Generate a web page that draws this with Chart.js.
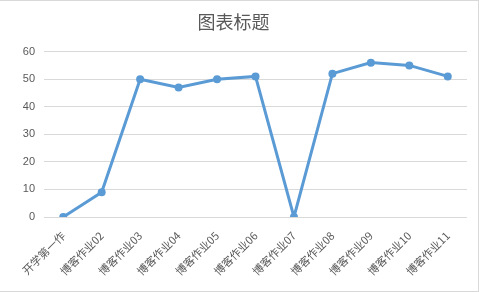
<!DOCTYPE html>
<html>
<head>
<meta charset="utf-8">
<script src="https://cdn.jsdelivr.net/npm/chart.js@4"></script>
<style>
  html, body { margin: 0; padding: 0; background: #fff; }
  #wrap { position: relative; width: 479px; height: 292px; box-sizing: border-box; border: 1px solid #d9d9d9; border-left: none; }
</style>
</head>
<body>
<div id="wrap"><canvas id="chart" width="478" height="290"></canvas></div>
<script>
// categories and values
const categories = ["开学第一作", "博客作业02", "博客作业03", "博客作业04", "博客作业05", "博客作业06",
  "博客作业07", "博客作业08", "博客作业09", "博客作业10", "博客作业11"];
const scores = [0, 9, 50, 47, 50, 51, 0, 52, 56, 55, 51];
const yTicks = [0, 10, 20, 30, 40, 50, 60];

const grey = "#595959";

new Chart(document.getElementById("chart").getContext("2d"), {
  type: "line",
  data: {
    labels: categories,
    datasets: [{
      label: "分数",
      data: scores,
      borderColor: "#5b9bd5",
      backgroundColor: "#5b9bd5",
      borderWidth: 3,
      pointRadius: 4,
      pointBorderWidth: 0,
      pointHoverRadius: 4,
      tension: 0,
      fill: false
    }]
  },
  options: {
    responsive: false,
    animation: false,
    layout: { padding: { left: 0, right: 11, top: 0, bottom: 0 } },
    plugins: {
      legend: { display: false },
      tooltip: { enabled: false },
      title: {
        display: true,
        text: "图表标题",
        color: grey,
        font: { family: "'Noto Sans CJK SC', sans-serif", size: 18, weight: "normal" },
        padding: { top: 10, bottom: 19 }
      }
    },
    scales: {
      x: {
        offset: true,
        grid: { display: false },
        border: { display: false },
        ticks: {
          color: grey,
          minRotation: 45,
          maxRotation: 45,
          autoSkip: false,
          padding: 4,
          font: { family: "'Noto Sans CJK SC', sans-serif", size: 11 }
        },
        afterFit: s => { s.height = 74; }
      },
      y: {
        min: 0,
        max: 60,
        afterBuildTicks: s => { s.ticks = yTicks.map(v => ({ value: v })); },
        grid: { color: "#d9d9d9", drawTicks: false },
        border: { display: false },
        ticks: {
          color: grey,
          padding: 9,
          font: { family: "'Liberation Sans', sans-serif", size: 11 }
        },
        afterFit: s => { s.width = 44; }
      }
    }
  }
});
</script>
</body>
</html>
